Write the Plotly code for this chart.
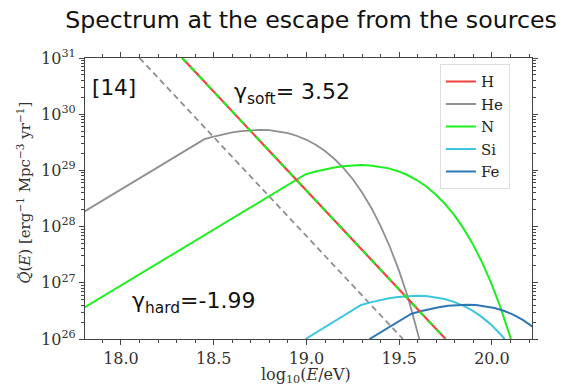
import plotly.graph_objects as go

# ---- data (log10 E [eV], log10 Q) ----
x_h_soft = [18.33, 19.75]
logq_h_soft = [31.0, 26.0]

x_he_soft = [18.10, 19.52]
logq_he_soft = [31.0, 26.0]

x_he = [17.8, 18.45, 18.5, 18.55, 18.6, 18.65, 18.7, 18.75, 18.8, 18.85, 18.9, 18.95,
        19.0, 19.05, 19.1, 19.15, 19.2, 19.25, 19.3, 19.35, 19.4, 19.45, 19.5, 19.55,
        19.6, 19.65]
logq_he = [28.263, 29.556, 29.603, 29.643, 29.675, 29.700, 29.716, 29.721, 29.715,
           29.695, 29.662, 29.612, 29.544, 29.455, 29.344, 29.207, 29.041, 28.842,
           28.607, 28.332, 28.010, 27.637, 27.207, 26.712, 26.144, 25.495]

x_n = [17.8, 18.994, 19.044, 19.094, 19.144, 19.194, 19.244, 19.294, 19.344, 19.394,
       19.444, 19.494, 19.544, 19.594, 19.644, 19.694, 19.744, 19.794, 19.844, 19.894,
       19.944, 19.994, 20.044, 20.094, 20.144]
logq_n = [26.554, 28.93, 28.977, 29.017, 29.049, 29.074, 29.090, 29.095, 29.089,
          29.069, 29.036, 28.986, 28.918, 28.829, 28.718, 28.581, 28.415, 28.216,
          27.981, 27.706, 27.384, 27.011, 26.581, 26.086, 25.518]

x_si = [18.995, 19.295, 19.345, 19.395, 19.445, 19.495, 19.545, 19.595, 19.645, 19.695,
        19.745, 19.795, 19.845, 19.895, 19.945, 19.995, 20.045, 20.095]
logq_si = [26.0, 26.605, 26.652, 26.692, 26.724, 26.749, 26.765, 26.770, 26.764,
           26.744, 26.711, 26.661, 26.593, 26.504, 26.393, 26.256, 26.090, 25.891]

x_fe = [19.34, 19.564, 19.614, 19.664, 19.714, 19.764, 19.814, 19.864, 19.914, 19.964,
        20.014, 20.064, 20.114, 20.164, 20.22]
logq_fe = [26.0, 26.446, 26.493, 26.533, 26.565, 26.590, 26.606, 26.611, 26.605,
           26.585, 26.552, 26.502, 26.434, 26.345, 26.218]

legend_names = ["H", "He", "N", "Si", "Fe"]
colors = {"H": "#f04040", "He": "#8f8f8f", "N": "#1eef1e", "Si": "#3cc6df", "Fe": "#2f76b5"}

ytick_exp = [26, 27, 28, 29, 30, 31]
xtick_vals = [18.0, 18.5, 19.0, 19.5, 20.0]

def lin(v):
    return [10.0 ** a for a in v]

fig = go.Figure()

# He soft (dashed grey)
fig.add_trace(go.Scatter(x=x_he_soft, y=lin(logq_he_soft), mode="lines", showlegend=False,
                         line=dict(color=colors["He"], width=1.8, dash="6px,4px")))
# He
fig.add_trace(go.Scatter(x=x_he, y=lin(logq_he), mode="lines", showlegend=False,
                         line=dict(color=colors["He"], width=1.8)))
# N
fig.add_trace(go.Scatter(x=x_n, y=lin(logq_n), mode="lines", showlegend=False,
                         line=dict(color=colors["N"], width=2)))
# Si
fig.add_trace(go.Scatter(x=x_si, y=lin(logq_si), mode="lines", showlegend=False,
                         line=dict(color=colors["Si"], width=2)))
# Fe
fig.add_trace(go.Scatter(x=x_fe, y=lin(logq_fe), mode="lines", showlegend=False,
                         line=dict(color=colors["Fe"], width=2)))
# H soft (red) with N soft (green dashed) on top
fig.add_trace(go.Scatter(x=x_h_soft, y=lin(logq_h_soft), mode="lines", showlegend=False,
                         line=dict(color=colors["H"], width=2.2)))
fig.add_trace(go.Scatter(x=x_h_soft, y=lin(logq_h_soft), mode="lines", showlegend=False,
                         line=dict(color=colors["N"], width=2.2, dash="6px,6px")))

# legend entries
for name in legend_names:
    fig.add_trace(go.Scatter(x=[None], y=[None], mode="lines", name=name,
                             line=dict(color=colors[name], width=2)))

axis_common = dict(showline=True, linecolor="#444", linewidth=1.2, mirror="allticks",
                   ticks="outside", tickcolor="#444", showgrid=False, zeroline=False,
                   tickfont=dict(family="DejaVu Serif", size=16, color="#333"))

fig.update_layout(
    width=562, height=386,
    margin=dict(l=85, r=30, t=58, b=47),
    plot_bgcolor="white", paper_bgcolor="white",
    title=dict(text="Spectrum at the escape from the sources", x=0.5534, xanchor="center",
               y=0.95, yanchor="middle",
               font=dict(family="DejaVu Sans", size=23.7, color="#111")),
    xaxis=dict(range=[17.806, 20.216], tickvals=xtick_vals,
               ticktext=[f"{v:.1f}" for v in xtick_vals], ticklen=5,
               minor=dict(ticks="outside", dtick=0.1, ticklen=3, tickcolor="#444"),
               **axis_common),
    yaxis=dict(type="log", range=[26, 31], tickvals=[10.0 ** e for e in ytick_exp],
               ticktext=[f"10<sup>{e}</sup>" for e in ytick_exp], ticklen=5,
               minor=dict(ticks="outside", dtick="D1", ticklen=2.5, tickcolor="#444"),
               **axis_common),
    legend=dict(x=0.794, y=0.978, xanchor="left", yanchor="top",
                bgcolor="rgba(255,255,255,0.9)", bordercolor="#ddd", borderwidth=1,
                font=dict(family="DejaVu Serif", size=15, color="#222"),
                itemwidth=30, tracegroupgap=0),
    showlegend=True,
    annotations=[
        dict(text="log<sub>10</sub>(<i>E</i>/eV)", x=0.494, y=-0.131, xref="paper",
             yref="paper", xanchor="center", yanchor="middle", showarrow=False,
             font=dict(family="DejaVu Serif", size=16, color="#333")),
        dict(text="<i>Q̃</i>(<i>E</i>) [erg<sup>−1</sup> Mpc<sup>−3</sup> yr<sup>−1</sup>]",
             x=-0.1365, y=0.52, xref="paper", yref="paper", textangle=-90,
             xanchor="center", yanchor="middle", showarrow=False,
             font=dict(family="DejaVu Serif", size=15, color="#333")),
        dict(text="[14]", x=17.835, y=30.48, xref="x", yref="y", xanchor="left",
             yanchor="middle", showarrow=False,
             font=dict(family="DejaVu Sans", size=21.5, color="#111")),
        dict(text="γ<sub>soft</sub>= 3.52", x=18.6, y=30.36, xref="x", yref="y",
             xanchor="left", yanchor="middle", showarrow=False,
             font=dict(family="DejaVu Sans", size=22, color="#111")),
        dict(text="γ<sub>hard</sub>=-1.99", x=18.05, y=26.65, xref="x", yref="y",
             xanchor="left", yanchor="middle", showarrow=False,
             font=dict(family="DejaVu Sans", size=22, color="#111")),
    ],
)

fig.write_html("out.html", config={"displayModeBar": False},
               post_script="document.body.style.margin='0px';")
